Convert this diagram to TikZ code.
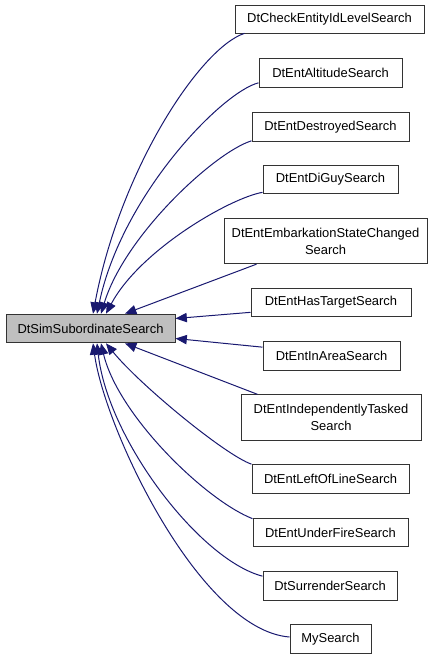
\documentclass[tikz,border=0pt]{standalone}
\usepackage{fontspec}
\setmainfont{Liberation Sans}
\usetikzlibrary{arrows.meta,calc}
\definecolor{edgeblue}{HTML}{191970}

\begin{document}
\begin{tikzpicture}[x=0.75pt,y=-0.75pt,
  cls/.style={draw=black!80,line width=0.75pt,inner sep=0pt,align=center,font=\fontsize{9.7}{12.75}\selectfont,minimum height=21.5pt},
  twoline/.style={cls,minimum height=34pt},
  base/.style={cls,fill=black!25},
  inh/.style={draw=edgeblue,line width=0.75pt,-{Triangle[length=8.5pt,width=7pt]}}]
  \useasboundingbox (0,0) rectangle (443,659);
  % nodes (absolute positions, pixel grid)
  \node[base,minimum width=126.75pt] at (90.5,328.5) (main) {DtSimSubordinateSearch};
  \node[cls,minimum width=141.75pt] at (329.5,19.5) (check) {DtCheckEntityIdLevelSearch};
  \node[cls,minimum width=107.25pt] at (330.5,73) (alt) {DtEntAltitudeSearch};
  \node[cls,minimum width=117.75pt] at (330.5,127) (destr) {DtEntDestroyedSearch};
  \node[cls,minimum width=101.25pt] at (330.5,179.5) (diguy) {DtEntDiGuySearch};
  \node[twoline,minimum width=152.25pt] at (325.5,241) (embark) {DtEntEmbarkationStateChanged\\Search};
  \node[cls,minimum width=120pt] at (331,302.5) (target) {DtEntHasTargetSearch};
  \node[cls,minimum width=102.75pt] at (331.5,356) (inarea) {DtEntInAreaSearch};
  \node[twoline,minimum width=135pt] at (331,417.5) (indep) {DtEntIndependentlyTasked\\Search};
  \node[cls,minimum width=117.75pt] at (330.5,479) (leftof) {DtEntLeftOfLineSearch};
  \node[cls,minimum width=116.25pt] at (330.5,532.5) (fire) {DtEntUnderFireSearch};
  \node[cls,minimum width=100.5pt] at (330,586) (surr) {DtSurrenderSearch};
  \node[cls,minimum width=60.75pt] at (330.5,639) (my) {MySearch};
  % inheritance edges
  \draw[inh] ($(check.south west)+(10,-1)$) .. controls (200,48) and (120,170) .. ($(main.north)+(2.5,0)$);
  \draw[inh] ($(alt.south west)+(0,-5)$) .. controls (222,92) and (122,195) .. ($(main.north)+(6.5,0)$);
  \draw[inh] ($(destr.south west)+(0,-1)$) .. controls (215,152) and (125,235) .. ($(main.north)+(10.5,0)$);
  \draw[inh] ($(diguy.south west)+(0,-2)$) .. controls (230,198) and (140,250) .. ($(main.north)+(15.5,0)$);
  \draw[inh] ($(embark.south west)+(33,0)$) -- ($(main.north)+(34.5,0)$);
  \draw[inh] ($(target.south west)+(0,-5)$) -- ($(main.east)+(0,-10)$);
  \draw[inh] ($(inarea.north west)+(0,6)$) -- ($(main.east)+(0,10)$);
  \draw[inh] ($(indep.north west)+(17,0)$) -- ($(main.south)+(34.5,0)$);
  \draw[inh] (leftof.north west) .. controls (225,455) and (140,385) .. ($(main.south)+(15.5,0)$);
  \draw[inh] ($(fire.north west)+(0,1)$) .. controls (205,500) and (118,415) .. ($(main.south)+(10.5,0)$);
  \draw[inh] ($(surr.north west)+(0,5)$) .. controls (200,560) and (108,440) .. ($(main.south)+(6.5,0)$);
  \draw[inh] ($(my.west)+(0,-2)$) .. controls (200,630) and (105,430) .. ($(main.south)+(2.5,0)$);
\end{tikzpicture}
\end{document}
